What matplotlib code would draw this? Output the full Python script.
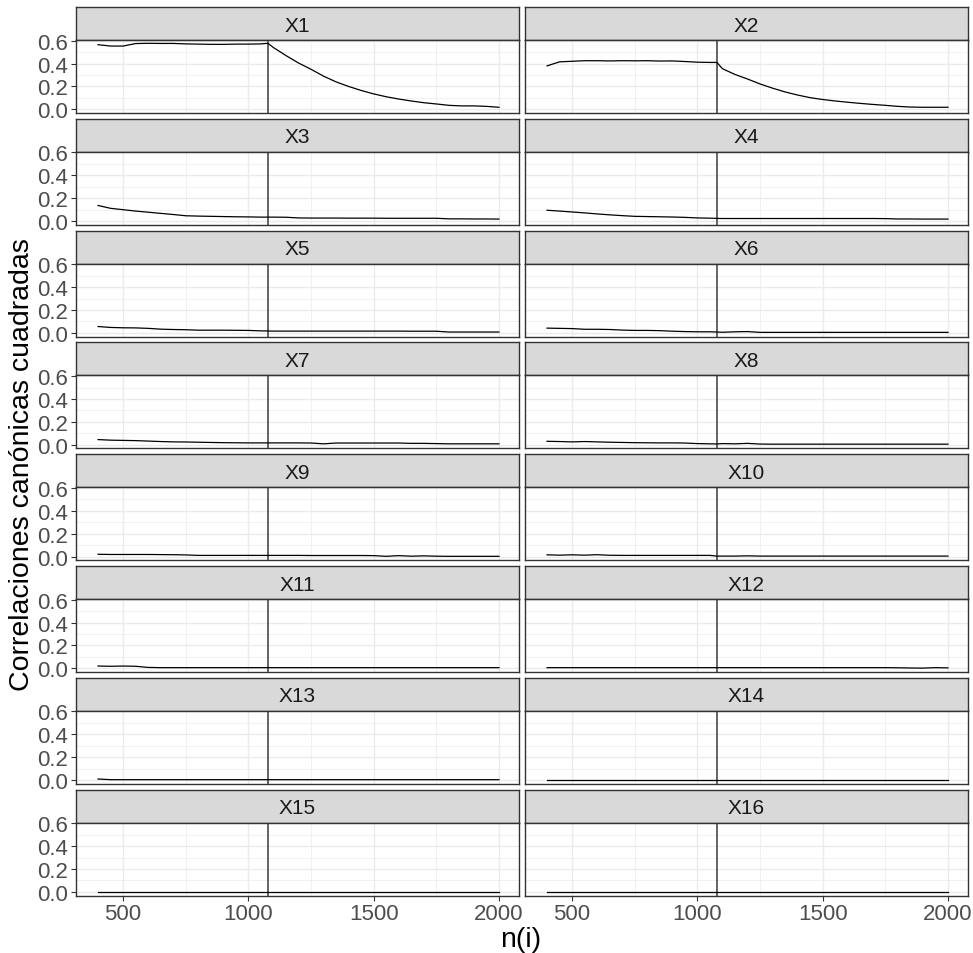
import matplotlib
matplotlib.use("Agg")
import matplotlib.pyplot as plt

# sample sizes n(i), with the change point
n_i = [400, 450, 500, 550, 600, 650, 700, 750, 800, 850, 900, 950, 1000, 1050, 1078,
       1100, 1150, 1200, 1250, 1300, 1350, 1400, 1450, 1500, 1550, 1600, 1650, 1700,
       1750, 1800, 1850, 1900, 1950, 2000]
cambio = 1078

r2_x1 = [0.565, 0.553, 0.553, 0.575, 0.577, 0.576, 0.576, 0.572, 0.570, 0.568, 0.568, 0.570, 0.570, 0.572, 0.577,
         0.540, 0.470, 0.405, 0.350, 0.290, 0.240, 0.200, 0.165, 0.135, 0.110, 0.090, 0.073, 0.058, 0.047,
         0.035, 0.030, 0.030, 0.026, 0.018]
r2_x2 = [0.380, 0.415, 0.420, 0.425, 0.425, 0.423, 0.425, 0.424, 0.425, 0.422, 0.423, 0.418, 0.412, 0.410, 0.410,
         0.355, 0.305, 0.265, 0.222, 0.185, 0.152, 0.125, 0.102, 0.086, 0.073, 0.062, 0.052, 0.043, 0.035,
         0.026, 0.020, 0.018, 0.018, 0.018]
r2_x3 = [0.137, 0.112, 0.100, 0.088, 0.078, 0.068, 0.058, 0.047, 0.044, 0.042, 0.040, 0.038, 0.037, 0.035, 0.035,
         0.035, 0.034, 0.028, 0.027, 0.027, 0.027, 0.026, 0.026, 0.026, 0.025, 0.025, 0.025, 0.025, 0.025,
         0.020, 0.020, 0.019, 0.019, 0.018]
r2_x4 = [0.095, 0.088, 0.080, 0.072, 0.063, 0.055, 0.048, 0.042, 0.040, 0.038, 0.036, 0.033, 0.028, 0.026, 0.024,
         0.023, 0.023, 0.023, 0.023, 0.023, 0.023, 0.023, 0.023, 0.023, 0.023, 0.023, 0.023, 0.023, 0.022,
         0.019, 0.019, 0.018, 0.018, 0.018]
r2_x5 = [0.056, 0.048, 0.045, 0.044, 0.040, 0.033, 0.030, 0.028, 0.024, 0.024, 0.024, 0.023, 0.022, 0.018, 0.017,
         0.016, 0.016, 0.016, 0.016, 0.016, 0.016, 0.016, 0.016, 0.016, 0.016, 0.016, 0.015, 0.015, 0.015,
         0.008, 0.008, 0.008, 0.008, 0.008]
r2_x6 = [0.042, 0.040, 0.038, 0.032, 0.032, 0.030, 0.025, 0.022, 0.022, 0.020, 0.015, 0.012, 0.010, 0.010, 0.008,
         0.006, 0.010, 0.012, 0.005, 0.005, 0.005, 0.005, 0.005, 0.005, 0.005, 0.005, 0.005, 0.005, 0.005,
         0.005, 0.005, 0.005, 0.005, 0.005]
r2_x7 = [0.045, 0.040, 0.038, 0.036, 0.032, 0.028, 0.025, 0.024, 0.022, 0.020, 0.018, 0.017, 0.016, 0.016, 0.016,
         0.016, 0.016, 0.016, 0.015, 0.008, 0.015, 0.015, 0.015, 0.015, 0.015, 0.015, 0.012, 0.012, 0.010,
         0.008, 0.008, 0.008, 0.008, 0.008]
r2_x8 = [0.030, 0.028, 0.025, 0.028, 0.025, 0.022, 0.020, 0.018, 0.017, 0.016, 0.016, 0.015, 0.010, 0.008, 0.007,
         0.010, 0.008, 0.012, 0.006, 0.005, 0.005, 0.005, 0.005, 0.005, 0.005, 0.005, 0.005, 0.005, 0.005,
         0.005, 0.005, 0.005, 0.005, 0.005]
r2_x9 = [0.020, 0.018, 0.018, 0.018, 0.018, 0.017, 0.016, 0.014, 0.010, 0.010, 0.010, 0.010, 0.010, 0.010, 0.010,
         0.010, 0.010, 0.010, 0.009, 0.009, 0.009, 0.009, 0.009, 0.008, 0.002, 0.008, 0.003, 0.006, 0.003,
         0.002, 0.002, 0.002, 0.002, 0.002]
r2_x10 = [0.015, 0.012, 0.015, 0.012, 0.016, 0.011, 0.010, 0.010, 0.010, 0.010, 0.010, 0.010, 0.010, 0.010, 0.004,
          0.004, 0.004, 0.006, 0.004, 0.004, 0.004, 0.004, 0.004, 0.004, 0.004, 0.004, 0.004, 0.004, 0.004,
          0.004, 0.004, 0.004, 0.004, 0.004]
r2_x11 = [0.020, 0.018, 0.020, 0.018, 0.008, 0.006, 0.006, 0.006, 0.006, 0.006, 0.006, 0.006, 0.006, 0.006, 0.006,
          0.006, 0.006, 0.006, 0.006, 0.006, 0.006, 0.006, 0.006, 0.006, 0.006, 0.006, 0.006, 0.006, 0.006,
          0.006, 0.006, 0.006, 0.006, 0.006]
r2_x12 = [0.006, 0.006, 0.006, 0.006, 0.006, 0.006, 0.006, 0.006, 0.006, 0.006, 0.006, 0.006, 0.006, 0.006, 0.006,
          0.006, 0.006, 0.006, 0.006, 0.006, 0.006, 0.006, 0.006, 0.006, 0.006, 0.006, 0.006, 0.006, 0.006,
          0.005, 0.003, 0.002, 0.006, 0.004]
r2_x13 = [0.010, 0.004, 0.004, 0.004, 0.004, 0.004, 0.004, 0.004, 0.004, 0.004, 0.004, 0.004, 0.004, 0.004, 0.004,
          0.004, 0.004, 0.004, 0.004, 0.004, 0.004, 0.004, 0.004, 0.004, 0.004, 0.004, 0.004, 0.004, 0.004,
          0.004, 0.004, 0.004, 0.004, 0.004]
r2_x14 = [0.002, 0.002, 0.002, 0.002, 0.002, 0.002, 0.002, 0.002, 0.002, 0.002, 0.002, 0.002, 0.002, 0.002, 0.002,
          0.002, 0.002, 0.002, 0.002, 0.002, 0.002, 0.002, 0.002, 0.002, 0.002, 0.002, 0.002, 0.002, 0.002,
          0.002, 0.002, 0.002, 0.002, 0.002]
r2_x15 = [0.000, 0.000, 0.000, 0.000, 0.000, 0.000, 0.000, 0.000, 0.000, 0.000, 0.000, 0.000, 0.000, 0.000, 0.000,
          0.000, 0.000, 0.000, 0.000, 0.000, 0.000, 0.000, 0.000, 0.000, 0.000, 0.000, 0.000, 0.000, 0.000,
          0.000, 0.000, 0.000, 0.000, 0.000]
r2_x16 = [0.000, 0.000, 0.000, 0.000, 0.000, 0.000, 0.000, 0.000, 0.000, 0.000, 0.000, 0.000, 0.000, 0.000, 0.000,
          0.000, 0.000, 0.000, 0.000, 0.000, 0.000, 0.000, 0.000, 0.000, 0.000, 0.000, 0.000, 0.000, 0.000,
          0.000, 0.000, 0.000, 0.000, 0.000]

paneles = ["X%d" % i for i in range(1, 17)]
series = [r2_x1, r2_x2, r2_x3, r2_x4, r2_x5, r2_x6, r2_x7, r2_x8,
          r2_x9, r2_x10, r2_x11, r2_x12, r2_x13, r2_x14, r2_x15, r2_x16]
xticks = [500, 1000, 1500, 2000]
yticks = [0.0, 0.2, 0.4, 0.6]

plt.rcParams["font.family"] = ["Liberation Sans", "DejaVu Sans"]

W, H = 973, 954
fig = plt.figure(figsize=(W / 100, H / 100), dpi=100)

def box(x0, y0, w, h):
    # pixel box (top-left origin) -> figure fraction
    return [x0 / W, 1 - (y0 + h) / H, w / W, h / H]

col_x = [76, 525]
col_w = [443, 443]
row_step = 111.8
strip_h = 33
panel_h = 73
dark = "#333333"

for k, (name, vals) in enumerate(zip(paneles, series)):
    r, c = divmod(k, 2)
    top = 8 + r * row_step
    st = fig.add_axes(box(col_x[c], top, col_w[c], strip_h))
    st.set_facecolor("#D9D9D9")
    st.set_xticks([]); st.set_yticks([])
    for s in st.spines.values():
        s.set_color(dark); s.set_linewidth(1.0)
    st.text(0.5, 0.45, name, ha="center", va="center", fontsize=15, color="#1A1A1A",
            transform=st.transAxes)

    ax = fig.add_axes(box(col_x[c], top + strip_h, col_w[c], panel_h))
    ax.set_xlim(312, 2080)
    ax.set_ylim(-0.032, 0.606)
    ax.set_xticks(xticks)
    ax.set_xticks([750, 1250, 1750], minor=True)
    ax.set_yticks(yticks)
    ax.set_yticks([0.1, 0.3, 0.5], minor=True)
    ax.grid(which="major", color="#EBEBEB", linewidth=1.0)
    ax.grid(which="minor", color="#EBEBEB", linewidth=0.5)
    ax.set_axisbelow(True)
    for s in ax.spines.values():
        s.set_color(dark); s.set_linewidth(1.0)
    ax.tick_params(which="minor", length=0)
    ax.tick_params(which="major", length=3.5, width=0.8, color=dark,
                   labelsize=16, labelcolor="#4D4D4D", pad=2)
    if c == 1:
        ax.tick_params(axis="y", left=False, labelleft=False)
    else:
        ax.set_yticklabels(["0.0", "0.2", "0.4", "0.6"])
    if r < 7:
        ax.tick_params(axis="x", bottom=False, labelbottom=False)
    ax.axvline(cambio, color="#3A3A3A", linewidth=1.1)
    ax.plot(n_i, vals, color="black", linewidth=0.9)

fig.text(521 / W, 1 - 940 / H, "n(i)", ha="center", va="center", fontsize=20.5)
fig.text(22 / W, 1 - 465 / H, "Correlaciones canónicas cuadradas", ha="center", va="center",
         rotation=90, fontsize=20.5)

fig.savefig("out.png", dpi=100)
